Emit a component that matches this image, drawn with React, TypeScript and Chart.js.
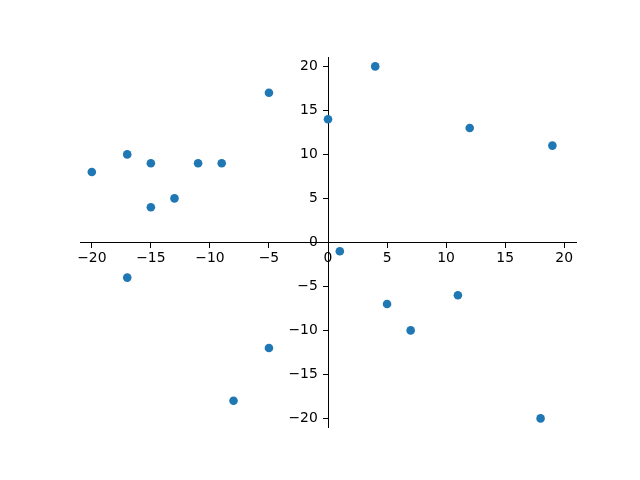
import React, { useEffect, useRef } from "react";
import { Chart, registerables } from "chart.js";

Chart.register(...registerables);

const xValues = [-20, -17, -15, -15, -13, -11, -9, -5, -17, -5, -8, 0, 4, 1, 5, 7, 11, 12, 19, 18];
const yValues = [8, 10, 9, 4, 5, 9, 9, 17, -4, -12, -18, 14, 20, -1, -7, -10, -6, 13, 11, -20];
const xTicks = [-20, -15, -10, -5, 0, 5, 10, 15, 20];
const yTicks = [-20, -15, -10, -5, 0, 5, 10, 15, 20];

const fmt = (v: number) => (v < 0 ? "\u2212" + Math.abs(v) : String(v));

export default function App() {
  const ref = useRef<HTMLCanvasElement>(null);
  useEffect(() => {
    const ctx = ref.current!;
    const font = { family: "DejaVu Sans", size: 13.9 };
    const chart = new Chart(ctx, {
      type: "scatter",
      data: {
        datasets: [
          {
            data: xValues.map((x, i) => ({ x, y: yValues[i] })),
            backgroundColor: "#1f77b4",
            borderColor: "#1f77b4",
            borderWidth: 0,
            pointRadius: 4.3,
          },
        ],
      },
      options: {
        animation: false,
        responsive: false,
        events: [],
        layout: { padding: { left: 80, right: 64, top: 57.6, bottom: 52.8 } },
        plugins: { legend: { display: false }, tooltip: { enabled: false } },
        scales: {
          x: {
            type: "linear",
            position: { y: 0 } as any,
            min: -21,
            max: 21,
            afterBuildTicks: (s: any) => {
              s.ticks = xTicks.map((v) => ({ value: v }));
            },
            afterFit: (s: any) => {
              s.height = 0;
              s.paddingLeft = 0;
              s.paddingRight = 0;
            },
            grid: {
              drawOnChartArea: false,
              drawTicks: true,
              tickLength: 5,
              tickWidth: 1,
              tickColor: "#000",
            },
            border: { display: true, color: "#000", width: 1 },
            ticks: {
              color: "#000",
              font,
              padding: 3,
              maxRotation: 0,
              autoSkip: false,
              callback: (v: any) => fmt(Number(v)),
            },
          },
          y: {
            type: "linear",
            position: { x: 0 } as any,
            min: -21,
            max: 21,
            afterBuildTicks: (s: any) => {
              s.ticks = yTicks.map((v) => ({ value: v }));
            },
            afterFit: (s: any) => {
              s.width = 0;
              s.paddingTop = 0;
              s.paddingBottom = 0;
            },
            grid: {
              drawOnChartArea: false,
              drawTicks: true,
              tickLength: 5,
              tickWidth: 1,
              tickColor: "#000",
            },
            border: { display: true, color: "#000", width: 1 },
            ticks: {
              color: "#000",
              font,
              padding: 3,
              autoSkip: false,
              callback: (v: any) => fmt(Number(v)) + "  \u200A",
            },
          },
        },
      },
    });
    return () => chart.destroy();
  }, []);
  return (
    <div style={{ position: "absolute", left: 0, top: 0, width: 640, height: 480, background: "#fff" }}>
      <canvas ref={ref} width={640} height={480} style={{ width: 640, height: 480 }} />
    </div>
  );
}
